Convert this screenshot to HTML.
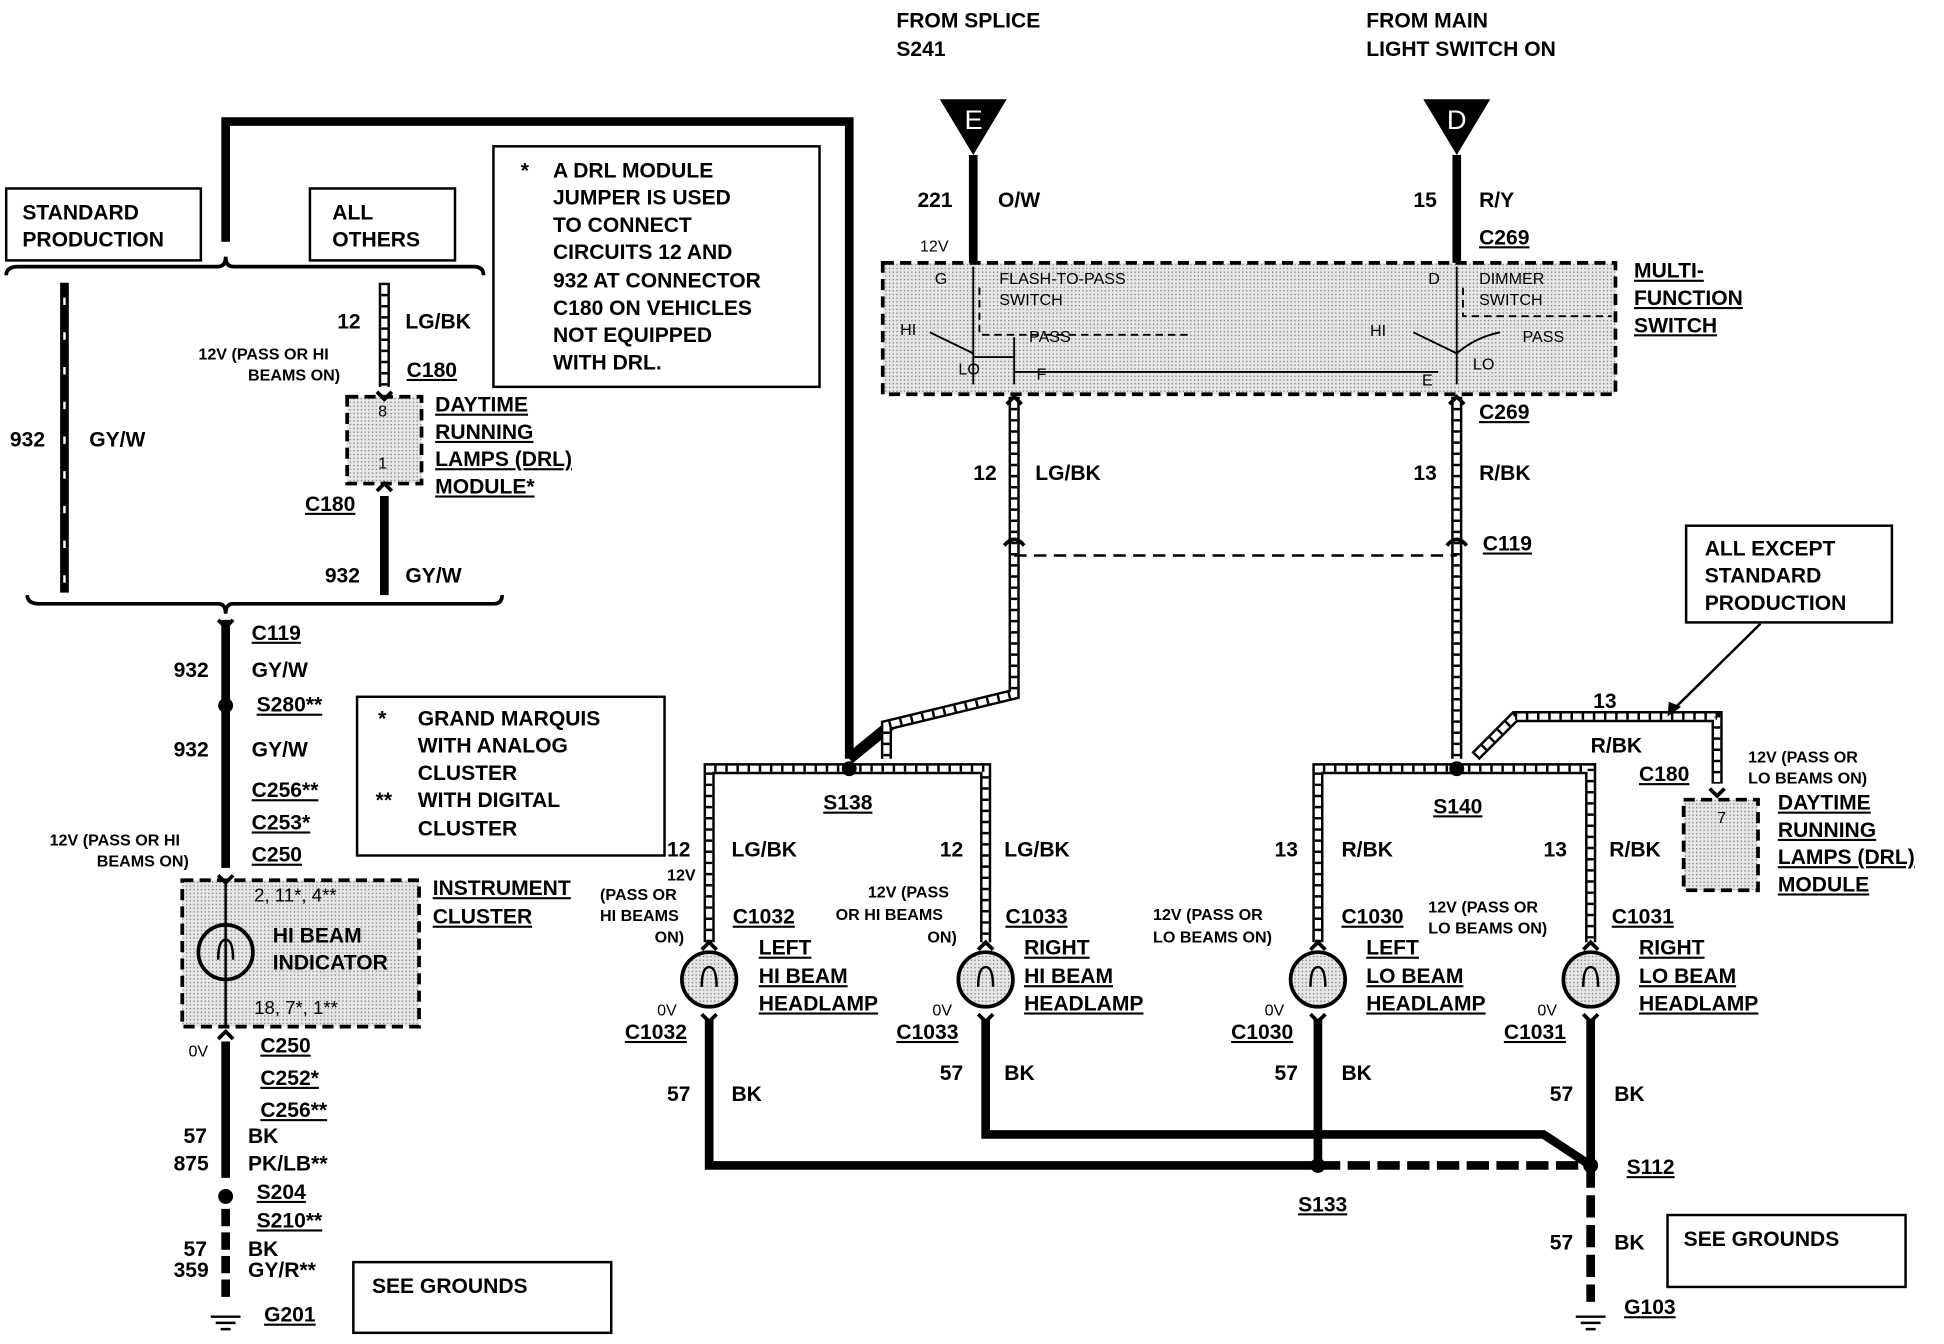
<!DOCTYPE html>
<html><head><meta charset="utf-8"><style>
html,body{margin:0;padding:0;background:#fff;}
svg{display:block;}
text{font-family:"Liberation Sans",sans-serif;font-weight:bold;font-size:17px;fill:#000;}
.s{font-size:13px;font-weight:normal;}
.u{text-decoration:underline;}
</style></head><body>
<svg width="1944" height="1344" viewBox="0 0 1568 1084" xmlns="http://www.w3.org/2000/svg">
<defs>
<pattern id="dots" width="3" height="3" patternUnits="userSpaceOnUse"><rect width="3" height="3" fill="#e6e6e6"/><rect width="1" height="1" fill="#777"/></pattern>
</defs>
<rect width="1568" height="1084" fill="#fff"/>

<!-- hatched wire style helper via groups -->
<g fill="none" stroke-linejoin="miter">
<!-- Thick loop wire -->
<path d="M182 195 V98 H685 V612" stroke="#000" stroke-width="7"/>
<!-- brace top -->
<path d="M5 222 Q5 215 15 215 H176 Q182 215 182 207 Q182 215 188 215 H382 Q390 215 390 222" stroke="#000" stroke-width="3"/>
<!-- brace bottom -->
<path d="M22 480 Q22 487 32 487 H176 Q182 487 182 495 Q182 487 188 487 H398 Q405 487 405 480" stroke="#000" stroke-width="3"/>
<!-- 932 left wire -->
<path d="M52 228 V478" stroke="#000" stroke-width="7"/>
<path d="M52 240 V478" stroke="#fff" stroke-width="2" stroke-dasharray="6 22"/>
<!-- hatched wires -->
<g id="hw">
<path d="M310 228 V312 M818 320 V560 L715 585 V612 M572 760 V620 H795 V760 M1175 320 V612 M1063 760 V620 H1283 V760 M1190 610 L1222 578 H1385 V632 M685 612 L718 585" stroke="#000" stroke-width="9"/>
<path d="M310 228 V312 M818 320 V560 L715 585 V612 M572 760 V620 H795 V760 M1175 320 V612 M1063 760 V620 H1283 V760 M1190 610 L1222 578 H1385 V632" stroke="#fff" stroke-width="5"/>
<path d="M310 228 V312 M818 320 V560 L715 585 V612 M572 760 V620 H795 V760 M1175 320 V612 M1063 760 V620 H1283 V760 M1190 610 L1222 578 H1385 V632" stroke="#000" stroke-width="5" stroke-dasharray="2 7"/>
</g>
<!-- crossings at C119 -->
<path d="M810 440 Q818 430 826 440 M1167 440 Q1175 430 1183 440" stroke="#000" stroke-width="3"/>
<path d="M818 448 H1175" stroke="#000" stroke-width="2" stroke-dasharray="10 6"/>
<!-- DRL -> 932 -->
<path d="M310 400 V480" stroke="#000" stroke-width="7"/>
<!-- center left main wire -->
<path d="M182 500 V700 M182 840 V950" stroke="#000" stroke-width="7"/>
<path d="M182 975 V1050" stroke="#000" stroke-width="7" stroke-dasharray="14 5"/>
<!-- E and D wires -->
<path d="M785 125 V212 M1175 125 V212" stroke="#000" stroke-width="7"/>
<!-- bottom grounds -->
<path d="M572 822 V940 H1063 M795 822 V915 H1245 L1283 940 M1063 822 V940 M1283 822 V940" stroke="#000" stroke-width="7"/>
<path d="M1063 940 H1283 M1283 940 V1050" stroke="#000" stroke-width="7" stroke-dasharray="18 6"/>
<!-- arrow -->
<path d="M1420 503 L1350 572" stroke="#000" stroke-width="2"/>
</g>
<polygon points="1345,578 1346,566 1356,570" fill="#000"/>

<!-- boxes -->
<g fill="none" stroke="#000" stroke-width="2">
<rect x="5" y="152" width="157" height="58"/>
<rect x="250" y="152" width="117" height="58"/>
<rect x="398" y="118" width="263" height="194"/>
<rect x="288" y="562" width="248" height="128"/>
<rect x="285" y="1018" width="208" height="57"/>
<rect x="1345" y="980" width="192" height="58"/>
<rect x="1360" y="424" width="166" height="78"/>
</g>
<g stroke="#000" stroke-width="3" stroke-dasharray="9 5" fill="url(#dots)">
<rect x="280" y="320" width="60" height="70"/>
<rect x="147" y="710" width="191" height="118"/>
<rect x="712" y="212" width="591" height="106"/>
<rect x="1358" y="645" width="60" height="73"/>
</g>

<!-- triangles -->
<polygon points="758,80 812,80 785,125" fill="#000"/>
<polygon points="1148,80 1202,80 1175,125" fill="#000"/>
<text x="778" y="104" style="fill:#fff;font-size:22px;font-weight:normal">E</text>
<text x="1167" y="104" style="fill:#fff;font-size:22px;font-weight:normal">D</text>

<!-- connector arrow caps -->
<g fill="none" stroke="#000" stroke-width="3">
<path d="M176 706 L182 712 L188 706 M176 838 L182 832 L188 838 M304 316 L310 322 L316 316 M304 396 L310 390 L316 396 M1379 636 L1385 642 L1391 636 M566 766 L572 760 L578 766 M789 766 L795 760 L801 766 M1057 766 L1063 760 L1069 766 M1277 766 L1283 760 L1289 766 M566 818 L572 824 L578 818 M789 818 L795 824 L801 818 M1057 818 L1063 824 L1069 818 M1277 818 L1283 824 L1289 818 M812 326 L818 320 L824 326 M1169 326 L1175 320 L1181 326 M176 500 L182 506 L188 500"/>
</g>
<!-- headlamps -->
<g stroke="#000" stroke-width="3" fill="url(#dots)">
<circle cx="182" cy="768" r="22"/>
<circle cx="572" cy="790" r="22"/><circle cx="795" cy="790" r="22"/>
<circle cx="1063" cy="790" r="22"/><circle cx="1283" cy="790" r="22"/>
</g>
<g fill="none" stroke="#000" stroke-width="2">
<path d="M176 774 Q176 758 182 758 Q188 758 188 774 M566 796 Q566 780 572 780 Q578 780 578 796 M789 796 Q789 780 795 780 Q801 780 801 796 M1057 796 Q1057 780 1063 780 Q1069 780 1069 796 M1277 796 Q1277 780 1283 780 Q1289 780 1289 796"/>
<path d="M182 712 V828"/>
</g>
<!-- splice dots -->
<g fill="#000">
<circle cx="182" cy="569" r="6"/><circle cx="182" cy="965" r="6"/>
<circle cx="685" cy="620" r="6"/><circle cx="1175" cy="620" r="6"/>
<circle cx="1063" cy="940" r="6"/><circle cx="1283" cy="940" r="6"/>
</g>
<!-- grounds -->
<g stroke="#000" stroke-width="2">
<path d="M170 1062 H194 M174 1067 H190 M178 1072 H186 M1271 1062 H1295 M1275 1067 H1291 M1279 1072 H1287"/>
</g>

<!-- switch internals -->
<g stroke="#000" stroke-width="1.5" fill="none">
<path d="M785 215 V310 M1175 215 V310 M750 268 L785 285 M818 272 V310 M785 288 H818 M1140 268 L1175 285 M1175 285 Q1190 272 1210 268 M818 300 H1160" />
<path d="M790 232 V270 H960 M1180 232 V255 H1300" stroke-dasharray="6 4"/>
</g>
<g class="s">
<text class="s" x="754" y="229">G</text><text class="s" x="806" y="229">FLASH-TO-PASS</text><text class="s" x="806" y="246">SWITCH</text>
<text class="s" x="726" y="270">HI</text><text class="s" x="830" y="276">PASS</text><text class="s" x="773" y="302">LO</text><text class="s" x="836" y="306">F</text>
<text class="s" x="1152" y="229">D</text><text class="s" x="1193" y="229">DIMMER</text><text class="s" x="1193" y="246">SWITCH</text>
<text class="s" x="1105" y="271">HI</text><text class="s" x="1228" y="276">PASS</text><text class="s" x="1188" y="298">LO</text><text class="s" x="1147" y="311">E</text>
</g>

<!-- texts -->
<text x="723" y="22">FROM SPLICE</text><text x="723" y="45">S241</text>
<text x="1102" y="22">FROM MAIN</text><text x="1102" y="45">LIGHT SWITCH ON</text>
<text x="18" y="177">STANDARD</text><text x="18" y="199">PRODUCTION</text>
<text x="268" y="177">ALL</text><text x="268" y="199">OTHERS</text>
<text x="420" y="143">*</text><text x="446" y="143">A DRL MODULE</text>
<text x="446" y="165">JUMPER IS USED</text><text x="446" y="187">TO CONNECT</text>
<text x="446" y="209">CIRCUITS 12 AND</text><text x="446" y="232">932 AT CONNECTOR</text>
<text x="446" y="254">C180 ON VEHICLES</text><text x="446" y="276">NOT EQUIPPED</text>
<text x="446" y="298">WITH DRL.</text>
<text x="272" y="265">12</text><text x="327" y="265">LG/BK</text>
<text class="s" x="160" y="290" style="font-weight:bold">12V (PASS OR HI</text><text class="s" x="200" y="307" style="font-weight:bold">BEAMS ON)</text>
<text x="328" y="304" class="u">C180</text>
<text class="s" x="305" y="336">8</text><text class="s" x="305" y="378">1</text>
<text x="351" y="332" class="u">DAYTIME</text><text x="351" y="354" class="u">RUNNING</text>
<text x="351" y="376" class="u">LAMPS (DRL)</text><text x="351" y="398" class="u">MODULE*</text>
<text x="246" y="412" class="u">C180</text>
<text x="8" y="360">932</text><text x="72" y="360">GY/W</text>
<text x="262" y="470">932</text><text x="327" y="470">GY/W</text>
<text x="203" y="516" class="u">C119</text>
<text x="140" y="546">932</text><text x="203" y="546">GY/W</text>
<text x="207" y="574" class="u">S280**</text>
<text x="140" y="610">932</text><text x="203" y="610">GY/W</text>
<text x="203" y="643" class="u">C256**</text><text x="203" y="669" class="u">C253*</text>
<text class="s" x="40" y="682" style="font-weight:bold">12V (PASS OR HI</text><text class="s" x="78" y="699" style="font-weight:bold">BEAMS ON)</text>
<text x="203" y="695" class="u">C250</text>
<text x="305" y="585">*</text><text x="337" y="585">GRAND MARQUIS</text>
<text x="337" y="607">WITH ANALOG</text><text x="337" y="629">CLUSTER</text>
<text x="303" y="651">**</text><text x="337" y="651">WITH DIGITAL</text><text x="337" y="674">CLUSTER</text>
<text class="s" x="205" y="727" style="font-size:15px">2, 11*, 4**</text>
<text x="220" y="760">HI BEAM</text><text x="220" y="782">INDICATOR</text>
<text class="s" x="205" y="818" style="font-size:15px">18, 7*, 1**</text>
<text x="349" y="722" class="u">INSTRUMENT</text><text x="349" y="745" class="u">CLUSTER</text>
<text class="s" x="152" y="852">0V</text>
<text x="210" y="849" class="u">C250</text><text x="210" y="875" class="u">C252*</text><text x="210" y="901" class="u">C256**</text>
<text x="148" y="922">57</text><text x="200" y="922">BK</text>
<text x="140" y="944">875</text><text x="200" y="944">PK/LB**</text>
<text x="207" y="967" class="u">S204</text><text x="207" y="990" class="u">S210**</text>
<text x="148" y="1013">57</text><text x="200" y="1013">BK</text>
<text x="140" y="1030">359</text><text x="200" y="1030">GY/R**</text>
<text x="213" y="1066" class="u">G201</text>
<text x="300" y="1043">SEE GROUNDS</text>

<text x="740" y="167">221</text><text x="805" y="167">O/W</text>
<text class="s" x="742" y="203">12V</text>
<text x="1140" y="167">15</text><text x="1193" y="167">R/Y</text>
<text x="1193" y="197" class="u">C269</text>
<text x="1318" y="224" class="u">MULTI-</text><text x="1318" y="246" class="u">FUNCTION</text><text x="1318" y="268" class="u">SWITCH</text>
<text x="1193" y="338" class="u">C269</text>
<text x="785" y="387">12</text><text x="835" y="387">LG/BK</text>
<text x="1140" y="387">13</text><text x="1193" y="387">R/BK</text>
<text x="1196" y="444" class="u">C119</text>
<text x="1375" y="448">ALL EXCEPT</text><text x="1375" y="470">STANDARD</text><text x="1375" y="492">PRODUCTION</text>
<text x="1285" y="571">13</text><text x="1283" y="607">R/BK</text>
<text x="1322" y="630" class="u">C180</text>
<text class="s" x="1410" y="615" style="font-weight:bold">12V (PASS OR</text><text class="s" x="1410" y="632" style="font-weight:bold">LO BEAMS ON)</text>
<text class="s" x="1385" y="664">7</text>
<text x="1434" y="653" class="u">DAYTIME</text><text x="1434" y="675" class="u">RUNNING</text>
<text x="1434" y="697" class="u">LAMPS (DRL)</text><text x="1434" y="719" class="u">MODULE</text>
<text x="664" y="653" class="u">S138</text><text x="1156" y="656" class="u">S140</text>

<text x="538" y="691">12</text><text x="590" y="691">LG/BK</text>
<text x="758" y="691">12</text><text x="810" y="691">LG/BK</text>
<text x="1028" y="691">13</text><text x="1082" y="691">R/BK</text>
<text x="1245" y="691">13</text><text x="1298" y="691">R/BK</text>

<g class="s" style="font-weight:bold">
<text class="s" x="538" y="710" style="font-weight:bold">12V</text>
<text class="s" x="484" y="726" style="font-weight:bold">(PASS OR</text>
<text class="s" x="484" y="743" style="font-weight:bold">HI BEAMS</text>
<text class="s" x="528" y="760" style="font-weight:bold">ON)</text>
<text class="s" x="700" y="724" style="font-weight:bold">12V (PASS</text>
<text class="s" x="674" y="742" style="font-weight:bold">OR HI BEAMS</text>
<text class="s" x="748" y="760" style="font-weight:bold">ON)</text>
<text class="s" x="930" y="742" style="font-weight:bold">12V (PASS OR</text>
<text class="s" x="930" y="760" style="font-weight:bold">LO BEAMS ON)</text>
<text class="s" x="1152" y="736" style="font-weight:bold">12V (PASS OR</text>
<text class="s" x="1152" y="753" style="font-weight:bold">LO BEAMS ON)</text>
</g>
<text x="591" y="745" class="u">C1032</text><text x="811" y="745" class="u">C1033</text>
<text x="1082" y="745" class="u">C1030</text><text x="1300" y="745" class="u">C1031</text>
<text x="612" y="770" class="u">LEFT</text><text x="612" y="793" class="u">HI BEAM</text><text x="612" y="815" class="u">HEADLAMP</text>
<text x="826" y="770" class="u">RIGHT</text><text x="826" y="793" class="u">HI BEAM</text><text x="826" y="815" class="u">HEADLAMP</text>
<text x="1102" y="770" class="u">LEFT</text><text x="1102" y="793" class="u">LO BEAM</text><text x="1102" y="815" class="u">HEADLAMP</text>
<text x="1322" y="770" class="u">RIGHT</text><text x="1322" y="793" class="u">LO BEAM</text><text x="1322" y="815" class="u">HEADLAMP</text>
<text class="s" x="530" y="819">0V</text><text class="s" x="752" y="819">0V</text>
<text class="s" x="1020" y="819">0V</text><text class="s" x="1240" y="819">0V</text>
<text x="504" y="838" class="u">C1032</text><text x="723" y="838" class="u">C1033</text>
<text x="993" y="838" class="u">C1030</text><text x="1213" y="838" class="u">C1031</text>
<text x="538" y="888">57</text><text x="590" y="888">BK</text>
<text x="758" y="871">57</text><text x="810" y="871">BK</text>
<text x="1028" y="871">57</text><text x="1082" y="871">BK</text>
<text x="1250" y="888">57</text><text x="1302" y="888">BK</text>
<text x="1047" y="977" class="u">S133</text>
<text x="1312" y="947" class="u">S112</text>
<text x="1250" y="1008">57</text><text x="1302" y="1008">BK</text>
<text x="1310" y="1060" class="u">G103</text>
<text x="1358" y="1005">SEE GROUNDS</text>
</svg>
</body></html>
